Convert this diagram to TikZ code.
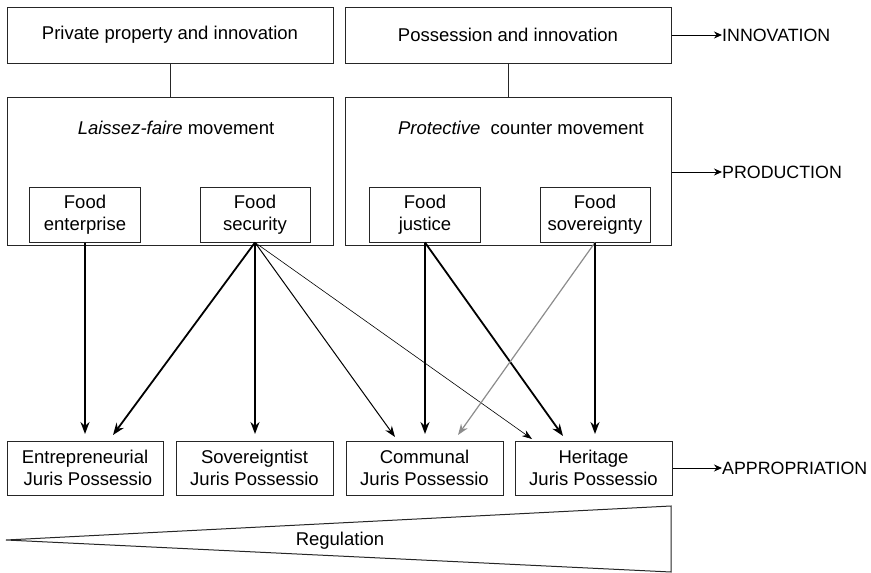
\documentclass[tikz,border=0pt]{standalone}
\usepackage{fontspec}
\setmainfont{Liberation Sans}
\usetikzlibrary{arrows.meta,calc}
\tikzset{
  box/.style={draw=black!85, line width=1pt, inner sep=0pt, align=center, font=\fontsize{18.5}{22}\selectfont},
  lbl/.style={inner sep=0pt, font=\fontsize{18.5}{22}\selectfont},
  sidelbl/.style={inner sep=0pt, font=\fontsize{17.8}{22}\selectfont},
  con/.style={line width=1pt, black!85},
  side/.style={line width=1pt, -{Stealth[length=8pt,width=7pt]}},
  thick arr/.style={line width=1.8pt, -{Stealth[length=12pt,width=9pt]}},
  mid arr/.style={line width=1pt, -{Stealth[length=11pt,width=8pt]}},
  thin arr/.style={line width=0.6pt, -{Stealth[length=10pt,width=7pt]}},
  grey arr/.style={line width=1.2pt, draw=black!45, -{Stealth[length=11pt,width=8pt]}, black!45},
}
\begin{document}
\begin{tikzpicture}[x=1pt,y=-1pt]
\useasboundingbox (0,0) rectangle (871,573);
% top boxes
\node[box, minimum width=326pt, minimum height=56pt] (top1) at (170,35) {Private property and innovation};
\node[box, minimum width=326pt, minimum height=56pt] (top2) at (508,35) {Possession and innovation};
% big boxes
\node[box, minimum width=326pt, minimum height=148pt] (big1) at (170,171) {};
\node[box, minimum width=326pt, minimum height=148pt] (big2) at (508,171) {};
\node[lbl] (t1) at (176,128) {\textit{Laissez-faire} movement};
\node[lbl] (t2) at (521,128) {\textit{Protective}\ \ counter movement};
% small boxes
\node[box, minimum width=111pt, minimum height=55pt] (fe) at (85,214.5) {Food\\enterprise};
\node[box, minimum width=110pt, minimum height=55pt] (fs) at (255,214.5) {Food\\security};
\node[box, minimum width=111pt, minimum height=55pt] (fj) at (425,214.5) {Food\\justice};
\node[box, minimum width=110pt, minimum height=55pt] (fv) at (595,214.5) {Food\\sovereignty};
% bottom boxes
\node[box, minimum width=156pt, minimum height=54pt] (ent) at (85,468) {Entrepreneurial\\\hspace*{6pt}Juris Possessio};
\node[box, minimum width=157pt, minimum height=54pt] (sov) at (254.5,468) {Sovereigntist\\Juris Possessio};
\node[box, minimum width=157pt, minimum height=54pt] (com) at (424.5,468) {Communal\\Juris Possessio};
\node[box, minimum width=157pt, minimum height=54pt] (her) at (593.5,468) {Heritage\\Juris Possessio};
% side labels
\node[sidelbl, anchor=west] (inn) at (722,35) {INNOVATION};
\node[sidelbl, anchor=west] (prod) at (722,172) {PRODUCTION};
\node[sidelbl, anchor=west] (appr) at (722,468) {APPROPRIATION};
\draw[side] (top2.east) -- (inn.west);
\draw[side] (big2.east |- prod.west) -- (prod.west);
\draw[side] (her.east) -- (appr.west);
% connectors
\draw[con] (top1.south) -- (top1.south |- big1.north);
\draw[con] (top2.south) -- (top2.south |- big2.north);
% arrow tips
\coordinate (e1) at (85,434);
\coordinate (e2) at (113,435);
\coordinate (e3) at (255,434);
\coordinate (e4) at (395,437);
\coordinate (e5) at (425,434);
\coordinate (e6) at (458,435);
\coordinate (e7) at (532,439);
\coordinate (e8) at (563,436);
\coordinate (e9) at (595,434);
\draw[thick arr] (fe.south) -- (e1);
\draw[thick arr] (fs.south) -- (e2);
\draw[thick arr] (fs.south) -- (e3);
\draw[mid arr] (fs.south) -- (e4);
\draw[thin arr] (fs.south) -- (e7);
\draw[thick arr] (fj.south) -- (e5);
\draw[thick arr] (fj.south) -- (e8);
\draw[grey arr] (fv.south) -- (e6);
\draw[thick arr] (fv.south) -- (e9);
% regulation wedge
\draw[line width=1pt, black!85] (6,540) -- (671,506) -- (671,572) -- cycle;
\node[lbl] (reg) at (340,541) {Regulation};
\end{tikzpicture}
\end{document}
